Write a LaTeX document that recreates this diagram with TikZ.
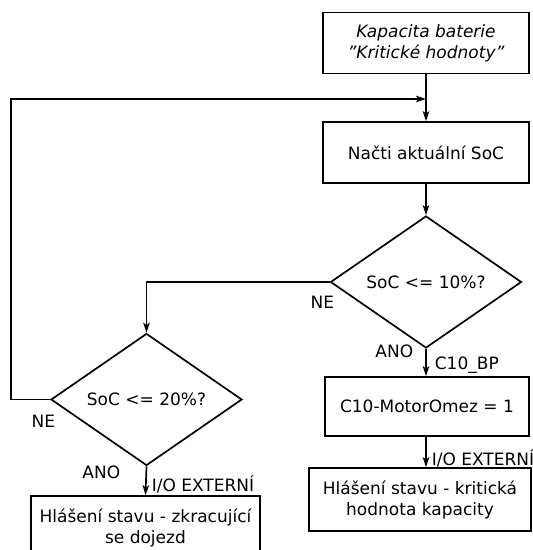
\documentclass[tikz,border=0pt]{standalone}
\usepackage{fontspec}
\setmainfont{DejaVu Sans}
\usetikzlibrary{shapes.geometric,arrows.meta}
\begin{document}
\begin{tikzpicture}[x=1pt,y=-1pt,
  font=\fontsize{17}{21}\selectfont,
  line width=1.7pt,
  arr/.style={-{Stealth[length=10pt,width=6.5pt,inset=2.5pt]}},
  box/.style={draw,rectangle,align=center,inner sep=0pt},
  dec/.style={draw,diamond,inner sep=0pt,minimum width=191pt,minimum height=128pt},
  lbl/.style={inner sep=0pt}]
\useasboundingbox (0,0) rectangle (533,550);
\node[box,minimum width=206pt,minimum height=61pt] (b1) at (426,43) {\itshape Kapacita baterie\\\itshape \char34 Kritické hodnoty\char34};
\node[box,minimum width=206pt,minimum height=61pt] (b2) at (426,152.5) {Načti aktuální SoC};
\node[dec] (d1) at (426,282) {SoC <= 10\%?};
\node[dec] (d2) at (146.5,399.5) {SoC <= 20\%?};
\node[box,minimum width=204pt,minimum height=59pt] (b3) at (427,406.5) {C10-MotorOmez = 1};
\node[box,minimum width=222pt,minimum height=63pt] (b4) at (420,499.5) {Hlášení stavu - kritická\\hodnota kapacity};
\node[box,minimum width=229pt,minimum height=64pt] (b5) at (145.5,528) {Hlášení stavu - zkracující\\se dojezd};
\coordinate (join) at (426,99);
\coordinate (loopc) at (11,399.5);
\draw[arr] (b1.south) -- (b2.north);
\draw[arr] (d2.west) -- (loopc) |- (join);
\draw[arr] (b2.south) -- (d1.north);
\draw[arr] (d1.west) -| (d2.north);
\draw[arr] (d1.south) -- (d1.south |- b3.north);
\draw[arr] (d1.south |- b3.south) -- (d1.south |- b4.north);
\draw[arr] (d2.south) -- (b5.north);
\node[lbl,anchor=east] (l1) at (335,302) {NE};
\node[lbl,anchor=east] (l2) at (414,351) {ANO};
\node[lbl,anchor=west] (l3) at (434,365) {C10\_BP};
\node[lbl,anchor=west] (l4) at (431,458) {I/O EXTERNÍ};
\node[lbl,anchor=east] (l5) at (56,421) {NE};
\node[lbl,anchor=east] (l6) at (121,472) {ANO};
\node[lbl,anchor=west] (l7) at (151,484) {I/O EXTERNÍ};
\end{tikzpicture}
\end{document}
